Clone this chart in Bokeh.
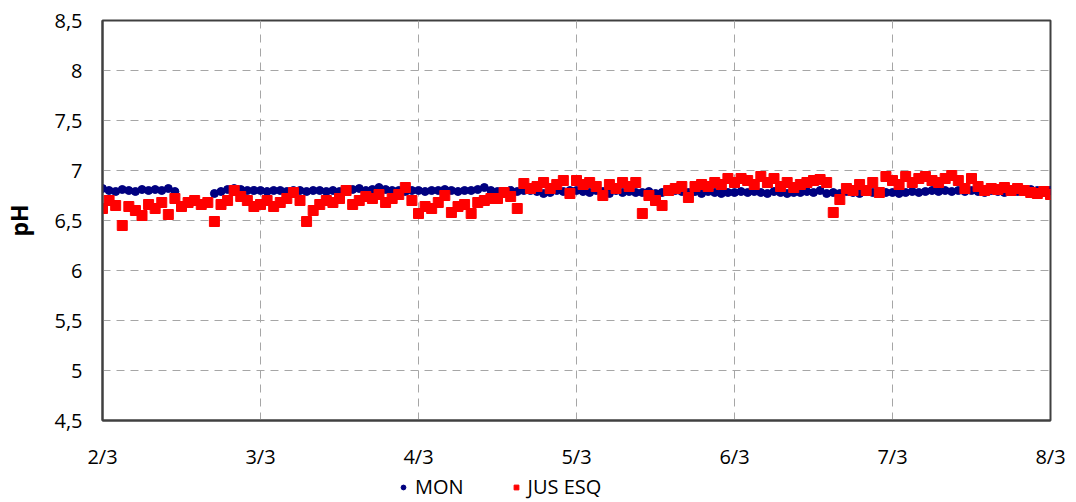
from bokeh.plotting import figure
from bokeh.layouts import column
from bokeh.models import (ColumnDataSource, FixedTicker, Legend, LegendItem)
from bokeh.embed import file_html
from bokeh.resources import INLINE
import numpy as np

# Hourly pH readings from 2/3 00:00 to 8/3 00:00
day_labels = ["2/3", "3/3", "4/3", "5/3", "6/3", "7/3", "8/3"]
y_ticks = [4.5, 5, 5.5, 6, 6.5, 7, 7.5, 8, 8.5]
y_tick_labels = ["4,5", "5", "5,5", "6", "6,5", "7", "7,5", "8", "8,5"]

nan = float("nan")
mon_ph = [
    # 2/3
    6.82, 6.80, 6.79, 6.81, 6.80, 6.79, 6.81, 6.80, 6.81, 6.80, 6.82, 6.79,
    nan, nan, nan, nan, nan, 6.77, 6.79, 6.81, 6.82, 6.81, 6.80, 6.80,
    # 3/3
    6.80, 6.79, 6.80, 6.80, 6.79, 6.80, 6.80, 6.79, 6.80, 6.80, 6.79, 6.80,
    6.79, 6.80, 6.81, 6.82, 6.80, 6.81, 6.83, 6.81, 6.80, 6.80, 6.79, 6.80,
    # 4/3
    6.80, 6.79, 6.80, 6.80, 6.81, 6.80, 6.79, 6.80, 6.80, 6.81, 6.83, 6.80,
    6.79, 6.78, 6.80, 6.79, 6.80, 6.80, 6.79, 6.77, 6.78, 6.80, 6.79, 6.80,
    # 5/3
    6.80, 6.79, 6.78, 6.80, 6.79, 6.77, 6.80, 6.78, 6.79, 6.78, 6.78, 6.79,
    6.77, 6.78, 6.80, 6.80, 6.79, 6.78, 6.79, 6.77, 6.79, 6.78, 6.77, 6.78,
    # 6/3
    6.78, 6.79, 6.78, 6.79, 6.78, 6.77, 6.79, 6.78, 6.77, 6.78, 6.78, 6.79,
    6.78, 6.80, 6.77, 6.78, 6.77, 6.79, 6.78, 6.77, 6.79, 6.78, 6.79, 6.78,
    # 7/3
    6.78, 6.77, 6.78, 6.79, 6.78, 6.79, 6.80, 6.79, 6.80, 6.79, 6.80, 6.79,
    6.80, 6.79, 6.78, 6.80, 6.79, 6.78, 6.80, 6.79, 6.80, 6.81, 6.80, 6.79,
    # 8/3
    6.80,
]

jus_esq_ph = [
    # 2/3
    6.62, 6.70, 6.65, 6.45, 6.64, 6.60, 6.55, 6.66, 6.62, 6.68, 6.56, 6.72,
    6.64, 6.68, 6.70, 6.66, 6.68, 6.49, 6.66, 6.70, 6.80, 6.74, 6.70, 6.64,
    # 3/3
    6.66, 6.70, 6.64, 6.68, 6.72, 6.78, 6.70, 6.49, 6.60, 6.66, 6.70, 6.68,
    6.72, 6.80, 6.66, 6.70, 6.74, 6.72, 6.76, 6.68, 6.72, 6.76, 6.83, 6.70,
    # 4/3
    6.57, 6.64, 6.62, 6.68, 6.75, 6.58, 6.64, 6.66, 6.57, 6.68, 6.70, 6.72,
    6.72, 6.78, 6.74, 6.62, 6.87, 6.82, 6.84, 6.88, 6.82, 6.86, 6.90, 6.77,
    # 5/3
    6.90, 6.86, 6.88, 6.84, 6.75, 6.86, 6.82, 6.88, 6.84, 6.88, 6.57, 6.75,
    6.70, 6.65, 6.80, 6.82, 6.84, 6.73, 6.84, 6.86, 6.84, 6.88, 6.86, 6.92,
    # 6/3
    6.88, 6.92, 6.90, 6.86, 6.94, 6.88, 6.92, 6.84, 6.88, 6.83, 6.86, 6.88,
    6.90, 6.91, 6.88, 6.58, 6.71, 6.82, 6.80, 6.86, 6.80, 6.88, 6.78, 6.94,
    # 7/3
    6.90, 6.86, 6.94, 6.88, 6.92, 6.94, 6.90, 6.88, 6.92, 6.95, 6.90, 6.82,
    6.92, 6.84, 6.80, 6.82, 6.81, 6.83, 6.80, 6.82, 6.80, 6.78, 6.77, 6.79,
    # 8/3
    6.76,
]

hours = np.arange(len(mon_ph))
days = hours / 24.0

src = ColumnDataSource(dict(x=days, mon=mon_ph, jus=jus_esq_ph))

FONT = "Open Sans"
AXIS_COLOR = "#404040"
GRID_COLOR = "#a6a6a6"
MON_COLOR = "#000080"
JUS_COLOR = "#ff0000"

p = figure(width=1076, height=472, output_backend="svg", toolbar_location=None,
           x_range=(0, 6), y_range=(4.5, 8.5),
           min_border_left=101, min_border_right=26,
           min_border_top=20, min_border_bottom=52)
p.background_fill_color = "white"
p.border_fill_color = "white"
p.outline_line_color = AXIS_COLOR
p.outline_line_width = 2

p.scatter("x", "mon", source=src, marker="circle", size=8,
          fill_color=MON_COLOR, line_color=MON_COLOR)
p.scatter("x", "jus", source=src, marker="square", size=10,
          fill_color=JUS_COLOR, line_color=JUS_COLOR)

# axes
p.xaxis.ticker = FixedTicker(ticks=list(range(len(day_labels))))
p.xaxis.major_label_overrides = {i: lab for i, lab in enumerate(day_labels)}
p.yaxis.ticker = FixedTicker(ticks=y_ticks)
p.yaxis.major_label_overrides = {t: lab for t, lab in zip(y_ticks, y_tick_labels)}
p.yaxis.axis_label = "pH"

for ax in (p.xaxis, p.yaxis):
    ax.axis_line_color = AXIS_COLOR
    ax.axis_line_width = 2
    ax.major_tick_out = 0
    ax.major_tick_in = 0
    ax.minor_tick_out = 0
    ax.minor_tick_in = 0
    ax.major_label_text_font = FONT
    ax.major_label_text_font_size = "20px"
    ax.major_label_text_color = "#000000"

p.xaxis.major_label_standoff = 22
p.yaxis.major_label_standoff = 20
p.yaxis.axis_label_text_font = FONT
p.yaxis.axis_label_text_font_size = "23px"
p.yaxis.axis_label_text_font_style = "bold"
p.yaxis.axis_label_text_color = "#000000"
p.yaxis.axis_label_standoff = 16

p.grid.grid_line_color = GRID_COLOR
p.grid.grid_line_dash = "8 6"
p.grid.grid_line_width = 1

# legend strip under the chart (its frame lines up with the chart frame)
lg = figure(width=1076, height=30, output_backend="svg", toolbar_location=None,
            x_range=(0, 1), y_range=(0, 1),
            min_border_left=101, min_border_right=26,
            min_border_top=0, min_border_bottom=0,
            x_axis_location=None, y_axis_location=None)
lg.grid.visible = False
lg.outline_line_color = None
lg.background_fill_color = "white"
lg.border_fill_color = "white"
# one key point each, parked outside the strip's range so only the legend shows it
key_src = ColumnDataSource(dict(x=[-5.0], y=[-5.0]))
k_mon = lg.scatter("x", "y", source=key_src, marker="circle", size=6,
                   fill_color=MON_COLOR, line_color=MON_COLOR)
k_jus = lg.scatter("x", "y", source=key_src, marker="square", size=9,
                   fill_color=JUS_COLOR, line_color=JUS_COLOR)
legend = Legend(items=[LegendItem(label="MON", renderers=[k_mon]),
                       LegendItem(label="JUS ESQ", renderers=[k_jus])],
                orientation="horizontal", location=(295, 2),
                glyph_width=12, glyph_height=12, label_standoff=6,
                spacing=46, padding=0, margin=0,
                label_text_font=FONT, label_text_font_size="20px",
                label_text_color="#000000",
                background_fill_alpha=0, border_line_alpha=0)
lg.add_layout(legend, "center")

open("out.html", "w").write(file_html(column(p, lg, spacing=0), INLINE))
